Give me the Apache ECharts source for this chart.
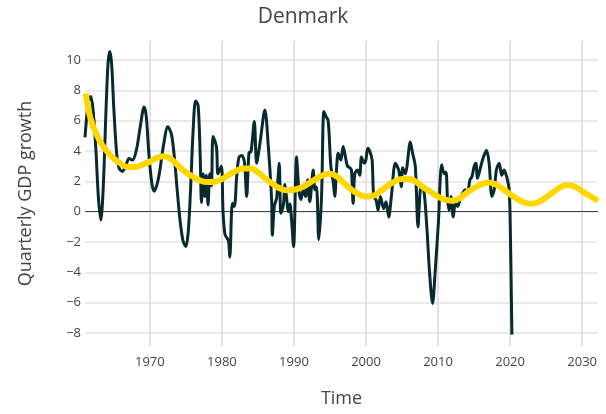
<!DOCTYPE html>
<html>
<head>
<meta charset="utf-8">
<script src="https://cdn.jsdelivr.net/npm/echarts@6/dist/echarts.min.js"></script>
<style>
  html, body { margin: 0; padding: 0; background: #fff; }
  #chart { width: 606px; height: 414px; }
</style>
</head>
<body>
<div id="chart"></div>
<script>
// quarterly GDP growth (%)
const gdpYears = [
  1961.0, 1961.3, 1961.55, 1961.8, 1962.1, 1962.5, 1962.85, 1963.2, 1963.55, 1963.9,
  1964.2, 1964.45, 1964.7, 1965.0, 1965.4, 1965.75, 1966.2, 1966.7, 1967.1, 1967.6,
  1968.15, 1968.7, 1969.2, 1969.5, 1969.9, 1970.3, 1970.6, 1971.0, 1971.4, 1971.9,
  1972.5, 1973.0, 1973.4, 1973.8, 1974.2, 1974.6, 1975.0, 1975.35, 1975.7, 1976.0,
  1976.35, 1976.7, 1977.0, 1977.16, 1977.4, 1977.62, 1977.85, 1978.08, 1978.31, 1978.55,
  1978.77, 1979.24, 1979.46, 1979.93, 1980.15, 1980.43, 1980.9, 1981.1, 1981.45, 1981.73,
  1982.05, 1982.37, 1982.75, 1983.12, 1983.44, 1983.76, 1984.04, 1984.5, 1984.82, 1985.28,
  1985.97, 1986.44, 1986.9, 1987.0, 1987.27, 1987.6, 1987.73, 1987.96, 1988.19, 1988.52,
  1988.75, 1988.98, 1989.21, 1989.44, 1989.67, 1989.95, 1990.36, 1990.68, 1990.96, 1991.29,
  1991.61, 1991.89, 1992.2, 1992.67, 1992.9, 1993.13, 1993.45, 1993.83, 1994.15, 1994.42,
  1994.75, 1995.12, 1995.44, 1995.67, 1995.9, 1996.14, 1996.5, 1996.83, 1997.15, 1997.43,
  1997.75, 1997.98, 1998.21, 1998.44, 1998.81, 1999.13, 1999.37, 1999.74, 1999.98, 2000.25,
  2000.55, 2000.85, 2001.07, 2001.4, 2001.68, 2002.0, 2002.46, 2002.79, 2003.15, 2003.52,
  2004.07, 2004.53, 2004.9, 2005.09, 2005.46, 2005.69, 2006.15, 2006.47, 2006.84, 2007.22,
  2007.54, 2007.86, 2008.13, 2008.47, 2008.83, 2009.24, 2009.62, 2010.05, 2010.5, 2010.86,
  2011.1, 2011.32, 2011.55, 2011.79, 2012.11, 2012.39, 2012.71, 2013.03, 2013.4, 2013.77,
  2014.09, 2014.42, 2014.7, 2015.02, 2015.25, 2015.48, 2015.94, 2016.3, 2016.72, 2017.09,
  2017.47, 2017.79, 2018.1, 2018.48, 2018.85, 2019.17, 2019.4, 2019.63, 2019.86, 2020.0,
  2020.25
];
const gdpValues = [
  4.9, 6.6, 7.4, 7.6, 6.8, 4.2, 1.0, -0.55, 1.8, 6.5,
  9.8, 10.55, 9.7, 6.8, 3.8, 2.85, 2.65, 3.1, 3.5, 3.4,
  4.1, 5.7, 6.9, 6.3, 3.6, 1.8, 1.35, 1.8, 2.75, 4.4,
  5.6, 5.1, 3.6, 1.4, -0.6, -1.9, -2.3, -1.2, 2.0, 5.3,
  7.3, 7.0, 3.5, 0.6, 2.5, 1.0, 2.4, 0.45, 2.5, 1.7,
  4.95, 4.3, 2.5, 3.0, 0.1, -1.5, -1.9, -3.0, 0.55, 0.35,
  2.3, 3.6, 3.7, 3.3, 1.0, 3.9, 3.95, 5.95, 3.2, 4.5,
  6.7, 4.3, 0.8, -1.55, 0.35, 0.9, 1.8, 3.2, -0.1, 0.4,
  1.8, 0.9, 0.0, 0.5, -0.55, -2.3, 3.6, 1.45, 0.8, 1.45,
  1.0, 2.1, 0.65, 2.75, 1.45, 1.65, -1.85, 1.0, 6.6, 6.3,
  6.0, 3.0, 2.0, 1.0, 2.75, 3.85, 3.4, 4.3, 3.6, 3.0,
  2.9, 2.75, 0.55, 2.5, 2.75, 2.4, 3.6, 3.2, 3.4, 4.18,
  3.95, 3.4, 1.0, 0.77, 0.1, 1.0, 0.2, 0.65, -0.35, 1.0,
  3.2, 2.75, 1.65, 2.9, 2.5, 3.0, 4.6, 3.85, 3.0, -1.0,
  1.45, 1.65, 1.0, -1.2, -4.05, -6.05, -3.8, -0.7, 3.1, 2.5,
  2.6, 0.77, 0.1, 1.0, -0.35, 0.55, 0.35, 0.77, 1.2, 1.45,
  1.2, 2.1, 2.3, 3.0, 3.2, 2.2, 3.0, 3.6, 4.05, 3.2,
  1.0, 1.45, 2.75, 3.2, 2.4, 2.75, 2.5, 2.1, 1.5, -0.3,
  -8.1
];

// smooth trend/cycle fit (yellow)
const fitYears = [
  1961.1, 1961.5, 1962, 1963, 1964, 1965, 1966, 1967, 1968, 1969,
  1970, 1971, 1972, 1973, 1974, 1975, 1976, 1977, 1978, 1979,
  1980, 1981, 1982, 1983, 1984, 1985, 1986, 1987, 1988, 1989,
  1990, 1991, 1992, 1993, 1994, 1995, 1996, 1997, 1998, 1999,
  2000, 2001, 2002, 2003, 2004, 2005, 2006, 2007, 2008, 2009,
  2010, 2011, 2012, 2013, 2014, 2015, 2016, 2017, 2018, 2019,
  2020, 2021, 2022, 2023, 2024, 2025, 2026, 2027, 2028, 2029,
  2030, 2031, 2032.2
];
const fitValues = [
  7.8, 6.7, 5.8, 4.7, 4.0, 3.5, 3.15, 2.95, 2.95, 3.1,
  3.3, 3.55, 3.65, 3.45, 3.0, 2.6, 2.3, 2.05, 1.95, 1.98,
  2.15, 2.45, 2.7, 2.85, 2.85, 2.6, 2.2, 1.85, 1.55, 1.42,
  1.45, 1.6, 1.85, 2.15, 2.4, 2.5, 2.3, 1.85, 1.45, 1.15,
  1.0, 1.05, 1.35, 1.7, 2.0, 2.15, 2.15, 1.95, 1.6, 1.3,
  1.0, 0.8, 0.72, 0.9, 1.25, 1.55, 1.8, 1.92, 1.8, 1.5,
  1.15, 0.85, 0.6, 0.53, 0.65, 0.95, 1.3, 1.62, 1.76, 1.65,
  1.35, 1.05, 0.72
];

const xTicks = [1970, 1980, 1990, 2000, 2010, 2020, 2030];
const yTicks = [-8, -6, -4, -2, 0, 2, 4, 6, 8, 10];

const font = '"Open Sans", "Noto Sans", sans-serif';
const chart = echarts.init(document.getElementById('chart'), null, { renderer: 'canvas' });

chart.setOption({
  animation: false,
  backgroundColor: '#ffffff',
  title: {
    text: 'Denmark',
    left: 'center',
    top: 2,
    textStyle: { fontFamily: font, fontSize: 21, fontWeight: 'normal', color: '#444' },
  },
  grid: { left: 85, right: 8, top: 41, bottom: 68 },
  xAxis: {
    type: 'value',
    min: 1961,
    max: 2032.2,
    name: 'Time',
    nameLocation: 'middle',
    nameGap: 44,
    nameTextStyle: { fontFamily: font, fontSize: 18, color: '#444' },
    axisLine: { show: false },
    axisTick: { show: false, customValues: xTicks },
    axisLabel: {
      customValues: xTicks,
      color: '#444',
      fontFamily: font,
      fontSize: 13,
      margin: 10,
      formatter: (v) => String(v),
    },
    splitLine: { show: true, lineStyle: { color: '#d9d9d9', width: 1.5 } },
  },
  yAxis: {
    type: 'value',
    min: -8.85,
    max: 11.25,
    name: 'Quarterly GDP growth',
    nameLocation: 'middle',
    nameGap: 50,
    nameTextStyle: { fontFamily: font, fontSize: 18, color: '#444' },
    axisLine: { show: false },
    axisTick: { show: false, customValues: yTicks },
    axisLabel: {
      customValues: yTicks,
      color: '#444',
      fontFamily: font,
      fontSize: 13,
      margin: 4,
      formatter: (v) => String(v).replace('-', '\u2212'),
    },
    splitLine: { show: true, lineStyle: { color: '#e2e2e2', width: 1.5 } },
  },
  series: [
    {
      type: 'line',
      data: gdpYears.map((y, i) => [y, gdpValues[i]]),
      smooth: 0.3,
      showSymbol: false,
      lineStyle: { color: '#062a2e', width: 3 },
      z: 2,
      markLine: {
        silent: true,
        symbol: 'none',
        label: { show: false },
        lineStyle: { color: '#444', width: 1, type: 'solid' },
        data: [{ yAxis: 0 }],
        z: 1,
      },
    },
    {
      type: 'line',
      data: fitYears.map((y, i) => [y, fitValues[i]]),
      smooth: true,
      showSymbol: false,
      lineStyle: { color: '#ffd700', width: 6 },
      z: 3,
    },
  ],
});
</script>
</body>
</html>
